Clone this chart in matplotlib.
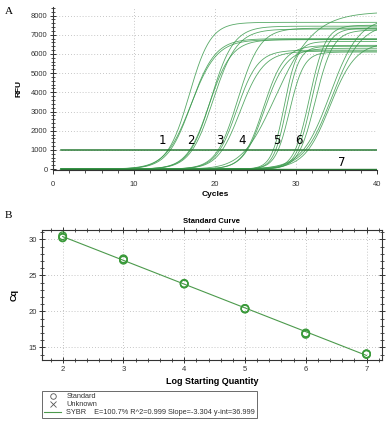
import numpy as np
import matplotlib
matplotlib.use('agg')
import matplotlib.pyplot as plt
from matplotlib.lines import Line2D
from matplotlib.ticker import MultipleLocator

plt.rcParams['font.family'] = ['Liberation Sans', 'DejaVu Sans']

# ---- panel A: amplification curves (per-well values) ----
# threshold crossing cycle, plateau RFU, upper softness, lower rise rate
well_ct = [14.2, 14.5, 14.3,
           17.0, 17.2, 16.9,
           20.4, 20.6, 20.9,
           23.8, 23.9, 24.0,
           27.2, 27.5, 27.8,
           29.9, 30.2, 30.5,
           30.9, 31.2, 31.5]
well_plateau = [7650, 6800, 6750,
                7450, 7300, 6750,
                7350, 6200, 6150,
                8200, 6450, 6300,
                6650, 6400, 6100,
                7500, 7350, 7250,
                7900, 7600, 6600]
well_soft = [1.3, 1.5, 1.6,
             1.4, 1.5, 1.4,
             1.4, 1.3, 1.5,
             2.6, 1.3, 1.4,
             0.8, 0.8, 0.9,
             1.0, 1.0, 1.1,
             1.8, 1.8, 1.6]
well_rise = [0.7, 0.7, 0.65,
             0.75, 0.75, 0.75,
             0.8, 0.8, 0.8,
             0.7, 0.85, 0.85,
             1.3, 1.3, 1.2,
             1.1, 1.1, 1.0,
             0.6, 0.6, 0.65]
group_labels = ['1', '2', '3', '4', '5', '6', '7']
label_cycle = [13.5, 17.0, 20.6, 23.3, 27.6, 30.4, 35.6]
label_rfu = [1500, 1500, 1500, 1500, 1480, 1480, 330]
threshold = 1000

# ---- panel B: standard curve ----
log_qty = [2, 2, 2, 3, 3, 3, 4, 4, 4, 5, 5, 5, 6, 6, 6, 7, 7, 7]
cq = [30.2, 30.5, 30.3, 27.1, 27.3, 27.2, 23.8, 23.9, 23.8,
      20.3, 20.4, 20.4, 16.8, 17.0, 16.9, 14.0, 14.1, 14.1]
slope = -3.304
yint = 36.999

green = '#3a9a4c'
grid_kw = dict(color='#b4b4b4', linestyle=(0, (1, 2.5)), linewidth=0.6)

fig = plt.figure(figsize=(3.88, 4.25), dpi=100)

# ================= A =================
ax = fig.add_axes([53/388, 1-170/425, (377-53)/388, (170-7)/425])
cyc = np.linspace(1, 40, 400)
for ct, P, s, r in zip(well_ct, well_plateau, well_soft, well_rise):
    g = r * s
    m = ct + s * np.log((P / threshold) ** (1 / g) - 1)
    y = P * (1 + np.exp(-(cyc - m) / s)) ** (-g)
    ax.plot(cyc, y, color=green, lw=0.6, alpha=0.85)
ax.plot([1, 40], [threshold, threshold], color='#2a7a36', lw=1.1)
ax.plot([1, 40], [0, 0], color='#2a7a36', lw=1.0)
for t, xc, yr in zip(group_labels, label_cycle, label_rfu):
    ax.text(xc, yr, t, fontsize=8.5, ha='center', va='center', family='DejaVu Sans')

ax.set_xlim(0, 40)
ax.set_ylim(-50, 8450)
ax.xaxis.set_major_locator(MultipleLocator(10))
ax.xaxis.set_minor_locator(MultipleLocator(2))
ax.yaxis.set_major_locator(MultipleLocator(1000))
ax.yaxis.set_minor_locator(MultipleLocator(200))
for sp in ['top', 'right']:
    ax.spines[sp].set_visible(False)
for sp in ['left', 'bottom']:
    ax.spines[sp].set_color('#333333')
    ax.spines[sp].set_linewidth(0.8)
ax.tick_params(axis='y', which='major', direction='inout', length=5, width=0.7,
               labelsize=5.5, colors='#333333', pad=1.5)
ax.tick_params(axis='y', which='minor', direction='inout', length=3, width=0.6, colors='#333333')
ax.tick_params(axis='x', which='major', direction='out', length=3, width=0.7,
               labelsize=5.5, colors='#333333', pad=5)
ax.tick_params(axis='x', which='minor', direction='out', length=2.5, width=0.6, colors='#333333')
ax.grid(True, which='major', **grid_kw)
ax.set_xlabel('Cycles', fontsize=6, fontweight='bold', labelpad=2)
ax.set_ylabel('RFU', fontsize=6, fontweight='bold', labelpad=6)
fig.text(5/388, 1-12/425, 'A', family='Liberation Serif', fontsize=8, va='center')

# ================= B =================
bx = fig.add_axes([42.3/388, 1-360/425, (381.7-42.3)/388, (360-230)/425])
xs = np.array([2, 7])
bx.plot(xs, yint + slope * xs, color='#4c9a4c', lw=0.8)
bx.scatter(log_qty, cq, s=30, facecolors='none', edgecolors='#3a9a3a', linewidths=0.9, zorder=3)
bx.set_xlim(1.665, 7.25)
bx.set_ylim(13.24, 31.3)
bx.xaxis.set_major_locator(MultipleLocator(1))
bx.xaxis.set_minor_locator(MultipleLocator(0.2))
bx.yaxis.set_major_locator(MultipleLocator(5))
bx.yaxis.set_minor_locator(MultipleLocator(1))
for sp in bx.spines.values():
    sp.set_color('#333333')
    sp.set_linewidth(0.8)
bx.tick_params(which='both', top=True, right=True, direction='inout', colors='#333333')
bx.tick_params(which='major', length=4, width=0.7, labelsize=5.5, pad=2)
bx.tick_params(which='minor', length=2.5, width=0.6)
bx.grid(True, which='major', **grid_kw)
bx.set_title('Standard Curve', fontsize=5.5, fontweight='bold', pad=5)
bx.set_xlabel('Log Starting Quantity', fontsize=6.5, fontweight='bold', labelpad=3)
bx.set_ylabel('Cq', fontsize=6.5, fontweight='bold', labelpad=7)
fig.text(5/388, 1-215/425, 'B', family='Liberation Serif', fontsize=8, va='center')

handles = [Line2D([], [], ls='none', marker='o', mfc='none', mec='#555555', ms=4, mew=0.6),
           Line2D([], [], ls='none', marker='x', color='#555555', ms=4.5, mew=0.6),
           Line2D([], [], color='#4c9a4c', lw=0.8)]
texts = ['Standard', 'Unknown',
         'SYBR    E=100.7% R^2=0.999 Slope=-3.304 y-int=36.999']
leg = fig.legend(handles, texts, loc='upper left', bbox_to_anchor=(42/388, 1-391/425),
                 fontsize=5.3, frameon=True, fancybox=False, handlelength=2.3,
                 handletextpad=0.7, borderpad=0.3, labelspacing=0.1, borderaxespad=0)
leg.get_frame().set_edgecolor('#444444')
leg.get_frame().set_linewidth(0.7)
for t in leg.get_texts():
    t.set_color('#333333')

fig.savefig('out.png', dpi=100)
